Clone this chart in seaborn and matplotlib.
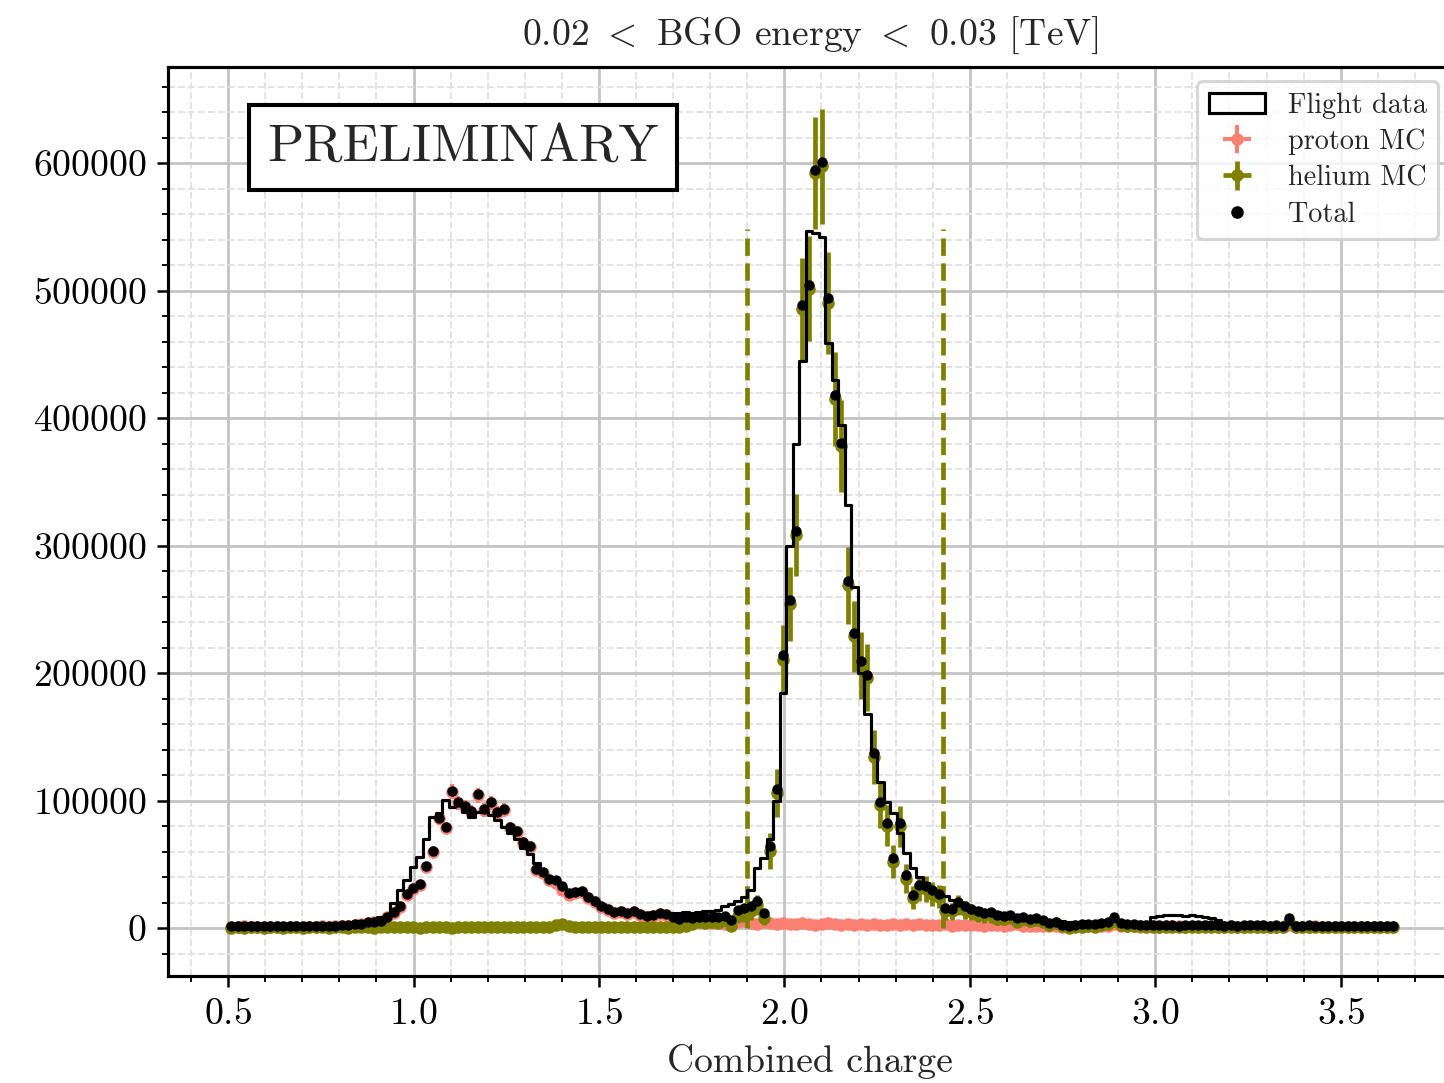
import numpy as np
import pandas as pd
import matplotlib
matplotlib.use("Agg")
import matplotlib.pyplot as plt
import seaborn as sns
from matplotlib.patches import Patch
from matplotlib.lines import Line2D
from matplotlib.ticker import MultipleLocator

# ---------------- data (180 bins, 0.5 .. 3.65) ----------------
bin_lo, bin_hi, n_bins = 0.5, 3.65, 180

flight_data = [
    1500, 1800, 2000, 1700, 1900, 2100, 1800, 1600, 1900, 2000,
    1800, 2000, 2200, 1900, 2100, 2300, 2400, 2600, 2900, 3300,
    3800, 4200, 5000, 8900, 9500, 19600, 29800, 37600, 48000, 56000,
    70000, 87300, 90000, 100400, 95000, 96500, 91200, 87300, 91200, 91200,
    88600, 84700, 79500, 74500, 70000, 63000, 58000, 51000, 45000, 40000,
    36000, 31500, 29800, 28000, 27000, 24500, 22000, 19000, 16500, 15000,
    14500, 13500, 13000, 12500, 12000, 12500, 12000, 12500, 12000, 11500,
    12500, 12000, 12500, 13000, 13500, 14500, 17000, 19000, 21000, 24000,
    30000, 47000, 55000, 70000, 100000, 184000, 300000, 380000, 445000, 547000,
    545000, 542000, 458600, 430000, 394500, 331800, 267700, 200000, 168000, 137000,
    114800, 99000, 90000, 74300, 58600, 46800, 40000, 35000, 29800, 27200,
    25000, 22000, 20000, 18000, 16700, 15500, 14500, 13500, 12500, 11500,
    11000, 10000, 9500, 8500, 7500, 7000, 6500, 6000, 5500, 5000,
    5000, 4800, 5000, 4700, 4900, 5000, 5200, 4800, 4600, 4500,
    4400, 5000, 8500, 9500, 10000, 10200, 10200, 9800, 10000, 9500,
    9000, 8000, 6000, 3800, 3600, 3500, 3700, 3400, 3500, 3300,
    3600, 3400, 3200, 3500, 3300, 3100, 3400, 3200, 3000, 3300,
    3100, 2900, 3200, 3000, 2800, 3100, 2900, 2700, 3000, 2800,
]

proton_mc = [
    900, 1100, 1300, 1000, 1200, 1100, 900, 1000, 1100, 1200,
    1000, 1100, 1200, 1000, 1300, 1200, 1400, 1600, 1900, 2400,
    3000, 3800, 4500, 5000, 8500, 11800, 16700, 25900, 31000, 34000,
    48000, 60000, 86000, 78400, 106900, 98000, 95000, 91200, 104000, 92500,
    98000, 90000, 92500, 78400, 75500, 66700, 63800, 45500, 43100, 37600,
    35300, 30000, 25900, 27400, 28500, 23500, 20600, 16700, 14100, 11800,
    12500, 11000, 12800, 10500, 8900, 9500, 11000, 10200, 8000, 6300,
    7500, 5000, 4500, 5200, 4000, 4800, 3500, 4200, 4500, 5200,
    3800, 3000, 4500, 3600, 3200, 4000, 3400, 2800, 3600, 3100,
    2600, 3300, 3800, 2900, 2500, 3200, 2700, 3400, 2300, 3000,
    2600, 2200, 2900, 2500, 3100, 2400, 2800, 2100, 2600, 2300,
    2900, 2000, 2400, 2700, 2100, 2500, 1900, 2300, 2600, 1800,
    2200, 3200, 1600, 1900, 1700, 1400, 1600, 1300, 1000, 1200,
    1900, 1800, 1500, 1700, 1400, 1600, 3500, 1500, 1700, 1400,
    1200, 1300, 1500, 1200, 1400, 1600, 1300, 1100, 1400, 1200,
    1300, 1500, 1200, 1100, 1300, 1000, 1200, 1400, 1100, 1300,
    1000, 1200, 1100, 2500, 1100, 1000, 1200, 1300, 1000, 1100,
    1200, 900, 1100, 1000, 1200, 1100, 900, 1000, 1100, 1000,
]

proton_err = [
    400, 500, 500, 400, 500, 500, 400, 400, 500, 500,
    400, 500, 500, 400, 500, 500, 500, 600, 600, 700,
    800, 900, 1000, 1000, 1400, 1700, 2000, 2500, 2700, 2800,
    3800, 4300, 5200, 5000, 5800, 5600, 5500, 5400, 5700, 5500,
    5600, 5400, 5500, 5000, 4900, 4600, 4500, 3800, 3700, 3400,
    2800, 2600, 2400, 2500, 2500, 2300, 2200, 2000, 1800, 1700,
    1700, 1600, 1700, 1600, 1500, 1500, 1600, 1500, 1400, 1300,
    1800, 2000, 2200, 2500, 2300, 2600, 2400, 2700, 2800, 3000,
    3200, 2900, 3400, 3100, 2800, 3300, 3000, 2700, 3200, 2900,
    2700, 3100, 3300, 2800, 2600, 3000, 2700, 3100, 2500, 2900,
    2700, 2500, 2900, 2600, 3000, 2500, 2800, 2400, 2700, 2500,
    2800, 2300, 2500, 2700, 2400, 2600, 2200, 2500, 2600, 2200,
    2400, 2900, 2100, 2200, 2100, 2000, 2100, 1900, 1700, 1800,
    800, 800, 700, 700, 700, 700, 1100, 700, 700, 700,
    600, 700, 700, 600, 700, 700, 600, 600, 700, 600,
    600, 700, 600, 600, 600, 500, 600, 700, 600, 600,
    500, 600, 600, 900, 600, 500, 600, 600, 500, 600,
    600, 500, 600, 500, 600, 600, 500, 500, 600, 500,
]

helium_mc = [
    400, 600, 300, 500, 700, 400, 600, 500, 300, 600,
    500, 400, 700, 500, 600, 400, 500, 700, 400, 600,
    500, 700, 400, 600, 500, 800, 600, 500, 700, 400,
    600, 500, 700, 600, 400, 700, 500, 600, 800, 500,
    600, 700, 500, 800, 600, 500, 700, 600, 900, 1100,
    2500, 3200, 1800, 900, 600, 700, 500, 800, 600, 700,
    500, 800, 600, 700, 900, 600, 800, 700, 1000, 900,
    1500, 3000, 4400, 3700, 4900, 4100, 6000, 2000, 9500, 10800,
    13200, 18000, 7500, 60400, 105800, 210400, 254100, 308300, 485400, 501500,
    592200, 597500, 490200, 414900, 377900, 268700, 228700, 205800, 196400, 134300,
    96400, 80200, 52000, 79900, 38800, 23800, 31200, 30600, 27000, 24700,
    13100, 13000, 18000, 14300, 12500, 10500, 9900, 10200, 7400, 7400,
    8300, 4800, 7200, 5300, 6200, 4600, 2400, 3700, 1500, 300,
    600, 1200, 2000, 1100, 2600, 3400, 5400, 2300, 1500, 1400,
    1300, 1000, 800, 1200, 900, 1100, 700, 1000, 800, 1200,
    900, 700, 1000, 800, 1100, 600, 900, 700, 1000, 800,
    600, 900, 700, 5000, 800, 600, 900, 700, 500, 800,
    600, 700, 900, 500, 700, 600, 800, 500, 700, 600,
]

helium_err = [
    1200, 1400, 1100, 1300, 1500, 1200, 1400, 1300, 1100, 1400,
    1300, 1200, 1500, 1300, 1400, 1200, 1300, 1500, 1200, 1400,
    1300, 1500, 1200, 1400, 1300, 1600, 1400, 1300, 1500, 1200,
    1400, 1300, 1500, 1400, 1200, 1500, 1300, 1400, 1600, 1300,
    1400, 1500, 1300, 1600, 1400, 1300, 1500, 1400, 1700, 1900,
    2800, 3200, 2300, 1700, 1400, 1500, 1300, 1600, 1400, 1500,
    1300, 1600, 1400, 1500, 1700, 1400, 1600, 1500, 1800, 1700,
    2200, 3100, 3800, 3500, 4000, 3700, 4500, 2600, 5600, 6000,
    6600, 7700, 5000, 14000, 19000, 27000, 29000, 32000, 40000, 41000,
    44000, 45000, 40000, 37000, 36000, 30000, 28000, 26000, 26000, 21000,
    18000, 16000, 13000, 16000, 11500, 9000, 10000, 10000, 9500, 9000,
    6600, 6600, 7800, 7000, 6500, 6000, 5800, 5900, 5000, 5000,
    5300, 4100, 4900, 4200, 4600, 3900, 2800, 3500, 2300, 1100,
    1400, 2000, 2600, 1900, 2900, 3400, 4300, 2800, 2300, 2200,
    2100, 1800, 1600, 2000, 1700, 1900, 1500, 1800, 1600, 2000,
    1700, 1500, 1800, 1600, 1900, 1400, 1700, 1500, 1800, 1600,
    1400, 1700, 1500, 4200, 1600, 1400, 1700, 1500, 1300, 1600,
    1400, 1500, 1700, 1300, 1500, 1400, 1600, 1300, 1500, 1400,
]

cut_lines = [1.898, 2.427]
cut_top = 548000

title_text = r"0.02 $<$ BGO energy $<$ 0.03 [TeV]"
x_label = "Combined charge"
labels = ["Flight data", "proton MC", "helium MC", "Total"]

# ---------------- style ----------------
sns.set_style("ticks")
plt.rcParams.update({
    "font.family": "serif",
    "font.serif": ["cmr10", "DejaVu Serif"],
    "mathtext.fontset": "cm",
    "axes.formatter.use_mathtext": True,
    "font.size": 12,
    "axes.linewidth": 1.0,
    "axes.edgecolor": "black",
    "xtick.color": "black",
    "ytick.color": "black",
    "xtick.direction": "out",
    "ytick.direction": "out",
    "xtick.major.size": 3.5,
    "ytick.major.size": 3.5,
    "xtick.minor.size": 2.0,
    "ytick.minor.size": 2.0,
    "xtick.major.width": 0.8,
    "ytick.major.width": 0.8,
})

bin_w = (bin_hi - bin_lo) / n_bins
edges = bin_lo + bin_w * np.arange(n_bins + 1)
centers = 0.5 * (edges[:-1] + edges[1:])
half_w = 0.5 * bin_w
proton = np.array(proton_mc, dtype=float)
helium = np.array(helium_mc, dtype=float)
total = proton + helium
df = pd.DataFrame({"charge": centers, "flight": np.array(flight_data, dtype=float),
                   "total": total})

W, H, DPI = 6.4, 4.8, 225.625
fig = plt.figure(figsize=(W, H), dpi=DPI)
ax = fig.add_axes([168 / 1444, 1 - 976 / 1083, (1452 - 168) / 1444, (976 - 67) / 1083])

salmon = "#fa8072"
olive = "#808000"

eb_p = ax.errorbar(centers, proton, xerr=half_w, yerr=proton_err, fmt="o",
                   ms=3, color=salmon, elinewidth=1.3, zorder=2)
eb_h = ax.errorbar(centers, helium, xerr=half_w, yerr=helium_err, fmt="o",
                   ms=3, color=olive, elinewidth=1.5, zorder=2.2)
sns.histplot(data=df, x="charge", weights="flight", binwidth=bin_w,
             binrange=(bin_lo, bin_hi), element="step", fill=False,
             color="black", linewidth=1.0, ax=ax, zorder=3)
sns.scatterplot(data=df, x="charge", y="total", color="black", s=11,
                linewidth=0, ax=ax, zorder=4)

ax.vlines(cut_lines, 0, cut_top, colors=olive, linestyles="dashed",
          linewidth=1.5, zorder=2.5)

ax.set_xlim(0.338, 3.800)
ax.set_ylim(-37600, 675300)
ax.xaxis.set_minor_locator(MultipleLocator(0.1))
ax.yaxis.set_major_locator(MultipleLocator(100000))
ax.yaxis.set_minor_locator(MultipleLocator(20000))
ax.ticklabel_format(style="plain", axis="y")
ax.grid(which="major", color="#c4c4c4", linewidth=0.9, linestyle="-")
ax.grid(which="minor", color="#e2e2e2", linewidth=0.6, linestyle="--")
ax.set_axisbelow(True)
for s in ax.spines.values():
    s.set_visible(True)
    s.set_color("black")
    s.set_linewidth(1.0)
ax.tick_params(which="both", top=False, right=False)

ax.set_title(title_text, fontsize=12, pad=7)
ax.set_xlabel(x_label, fontsize=12)
ax.set_ylabel("")

ax.text(0.2298, 0.9114, "PRELIMINARY", transform=ax.transAxes, fontsize=17,
        ha="center", va="center", zorder=6,
        bbox=dict(boxstyle="square,pad=0.35", fc="white", ec="black", lw=1.3))

handles = [
    Patch(facecolor="none", edgecolor="black", linewidth=1.0),
    eb_p,
    eb_h,
    Line2D([], [], marker="o", color="black", ls="none", ms=3),
]
leg = ax.legend(handles, labels, loc="upper right", fontsize=9,
                framealpha=0.8, borderaxespad=0.5, labelspacing=0.35)
leg.set_zorder(10)

fig.savefig("out.png", dpi=DPI)
